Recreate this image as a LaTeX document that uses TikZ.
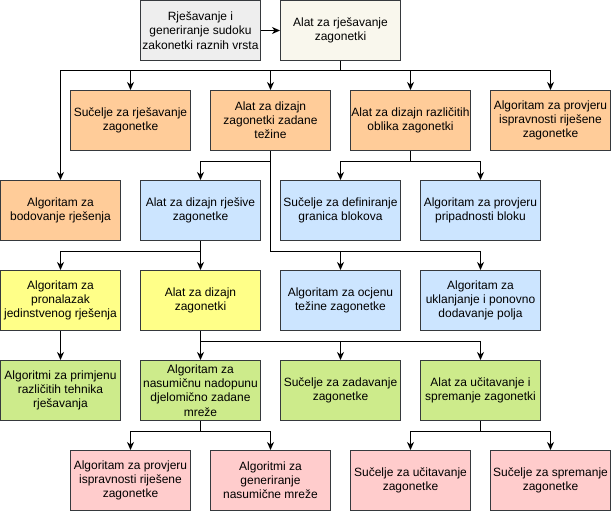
\documentclass[tikz,border=0pt]{standalone}
\usepackage{fontspec}
\setmainfont{Liberation Sans}
\usetikzlibrary{arrows.meta}
\definecolor{bordc}{HTML}{36393D}
\definecolor{grayc}{HTML}{EEEEEE}
\definecolor{beigec}{HTML}{F9F7ED}
\definecolor{orangec}{HTML}{FFCC99}
\definecolor{bluec}{HTML}{CCE5FF}
\definecolor{yellowc}{HTML}{FFFF88}
\definecolor{greenc}{HTML}{CDEB8B}
\definecolor{pinkc}{HTML}{FFCCCC}
\begin{document}
\begin{tikzpicture}[x=1pt,y=-1pt,
  box/.style={draw=bordc, line width=1pt, minimum width=120pt, minimum height=60pt,
    align=center, inner sep=0pt, font=\fontsize{12}{14.2}\selectfont, text=black},
  conn/.style={line width=1pt, -{Stealth[length=8pt,width=7pt,inset=2.5pt]}},
  plain/.style={line width=1pt}]
\useasboundingbox (0,0) rectangle (611,511);
% row 0
\node[box, fill=grayc] (A) at (200.5,30.5) {Rješavanje i\\generiranje sudoku\\zakonetki raznih vrsta};
\node[box, fill=beigec] (B) at (340.5,30.5) {Alat za rješavanje\\zagonetki};
% row 1
\node[box, fill=orangec] (C1) at (130.5,120.5) {Sučelje za rješavanje\\zagonetke};
\node[box, fill=orangec] (C2) at (270.5,120.5) {Alat za dizajn\\zagonetki zadane\\težine};
\node[box, fill=orangec] (C3) at (410.5,120.5) {Alat za dizajn različitih\\oblika zagonetki};
\node[box, fill=orangec] (C4) at (550.5,120.5) {Algoritam za provjeru\\ispravnosti riješene\\zagonetke};
% row 2
\node[box, fill=orangec] (D1) at (60.5,210.5) {Algoritam za\\bodovanje rješenja};
\node[box, fill=bluec] (D2) at (200.5,210.5) {Alat za dizajn rješive\\zagonetke};
\node[box, fill=bluec] (D3) at (340.5,210.5) {Sučelje za definiranje\\granica blokova};
\node[box, fill=bluec] (D4) at (480.5,210.5) {Algoritam za provjeru\\pripadnosti bloku};
% row 3
\node[box, fill=yellowc] (E1) at (60.5,300.5) {Algoritam za\\pronalazak\\jedinstvenog rješenja};
\node[box, fill=yellowc] (E2) at (200.5,300.5) {Alat za dizajn\\zagonetki};
\node[box, fill=bluec] (E3) at (340.5,300.5) {Algoritam za ocjenu\\težine zagonetke};
\node[box, fill=bluec] (E4) at (480.5,300.5) {Algoritam za\\uklanjanje i ponovno\\dodavanje polja};
% row 4
\node[box, fill=greenc] (F1) at (60.5,390.5) {Algoritmi za primjenu\\različitih tehnika\\rješavanja};
\node[box, fill=greenc] (F2) at (200.5,390.5) {Algoritam za\\nasumičnu nadopunu\\djelomično zadane\\mreže};
\node[box, fill=greenc] (F3) at (340.5,390.5) {Sučelje za zadavanje\\zagonetke};
\node[box, fill=greenc] (F4) at (480.5,390.5) {Alat za učitavanje i\\spremanje zagonetki};
% row 5
\node[box, fill=pinkc] (G1) at (130.5,480.5) {Algoritam za provjeru\\ispravnosti riješene\\zagonetke};
\node[box, fill=pinkc] (G2) at (270.5,480.5) {Algoritmi za\\generiranje\\nasumične mreže};
\node[box, fill=pinkc] (G3) at (410.5,480.5) {Sučelje za učitavanje\\zagonetke};
\node[box, fill=pinkc] (G4) at (550.5,480.5) {Sučelje za spremanje\\zagonetke};
% connectors
\draw[conn] (A.east) -- (B.west);
\foreach \t in {C1,C2,C3,C4,D1}
  \draw[conn] (B.south) -- ++(0,10) -| (\t.north);
\draw[conn] (C2.south) -- ++(0,10) -| (D2.north);
\draw[conn] (C2.south) -- ++(0,100) -| (E3.north);
\draw[conn] (C2.south) -- ++(0,100) -| (E4.north);
\draw[conn] (C3.south) -- ++(0,10) -| (D3.north);
\draw[conn] (C3.south) -- ++(0,10) -| (D4.north);
\draw[conn] (D2.south) -- ++(0,10) -| (E1.north);
\draw[conn] (D2.south) -- (E2.north);
\draw[conn] (E1.south) -- (F1.north);
\draw[conn] (E2.south) -- (F2.north);
\draw[conn] (E2.south) -- ++(0,10) -| (F3.north);
\draw[conn] (E2.south) -- ++(0,10) -| (F4.north);
\draw[conn] (F2.south) -- ++(0,10) -| (G1.north);
\draw[conn] (F2.south) -- ++(0,10) -| (G2.north);
\draw[conn] (F4.south) -- ++(0,10) -| (G3.north);
\draw[conn] (F4.south) -- ++(0,10) -| (G4.north);
\end{tikzpicture}
\end{document}
